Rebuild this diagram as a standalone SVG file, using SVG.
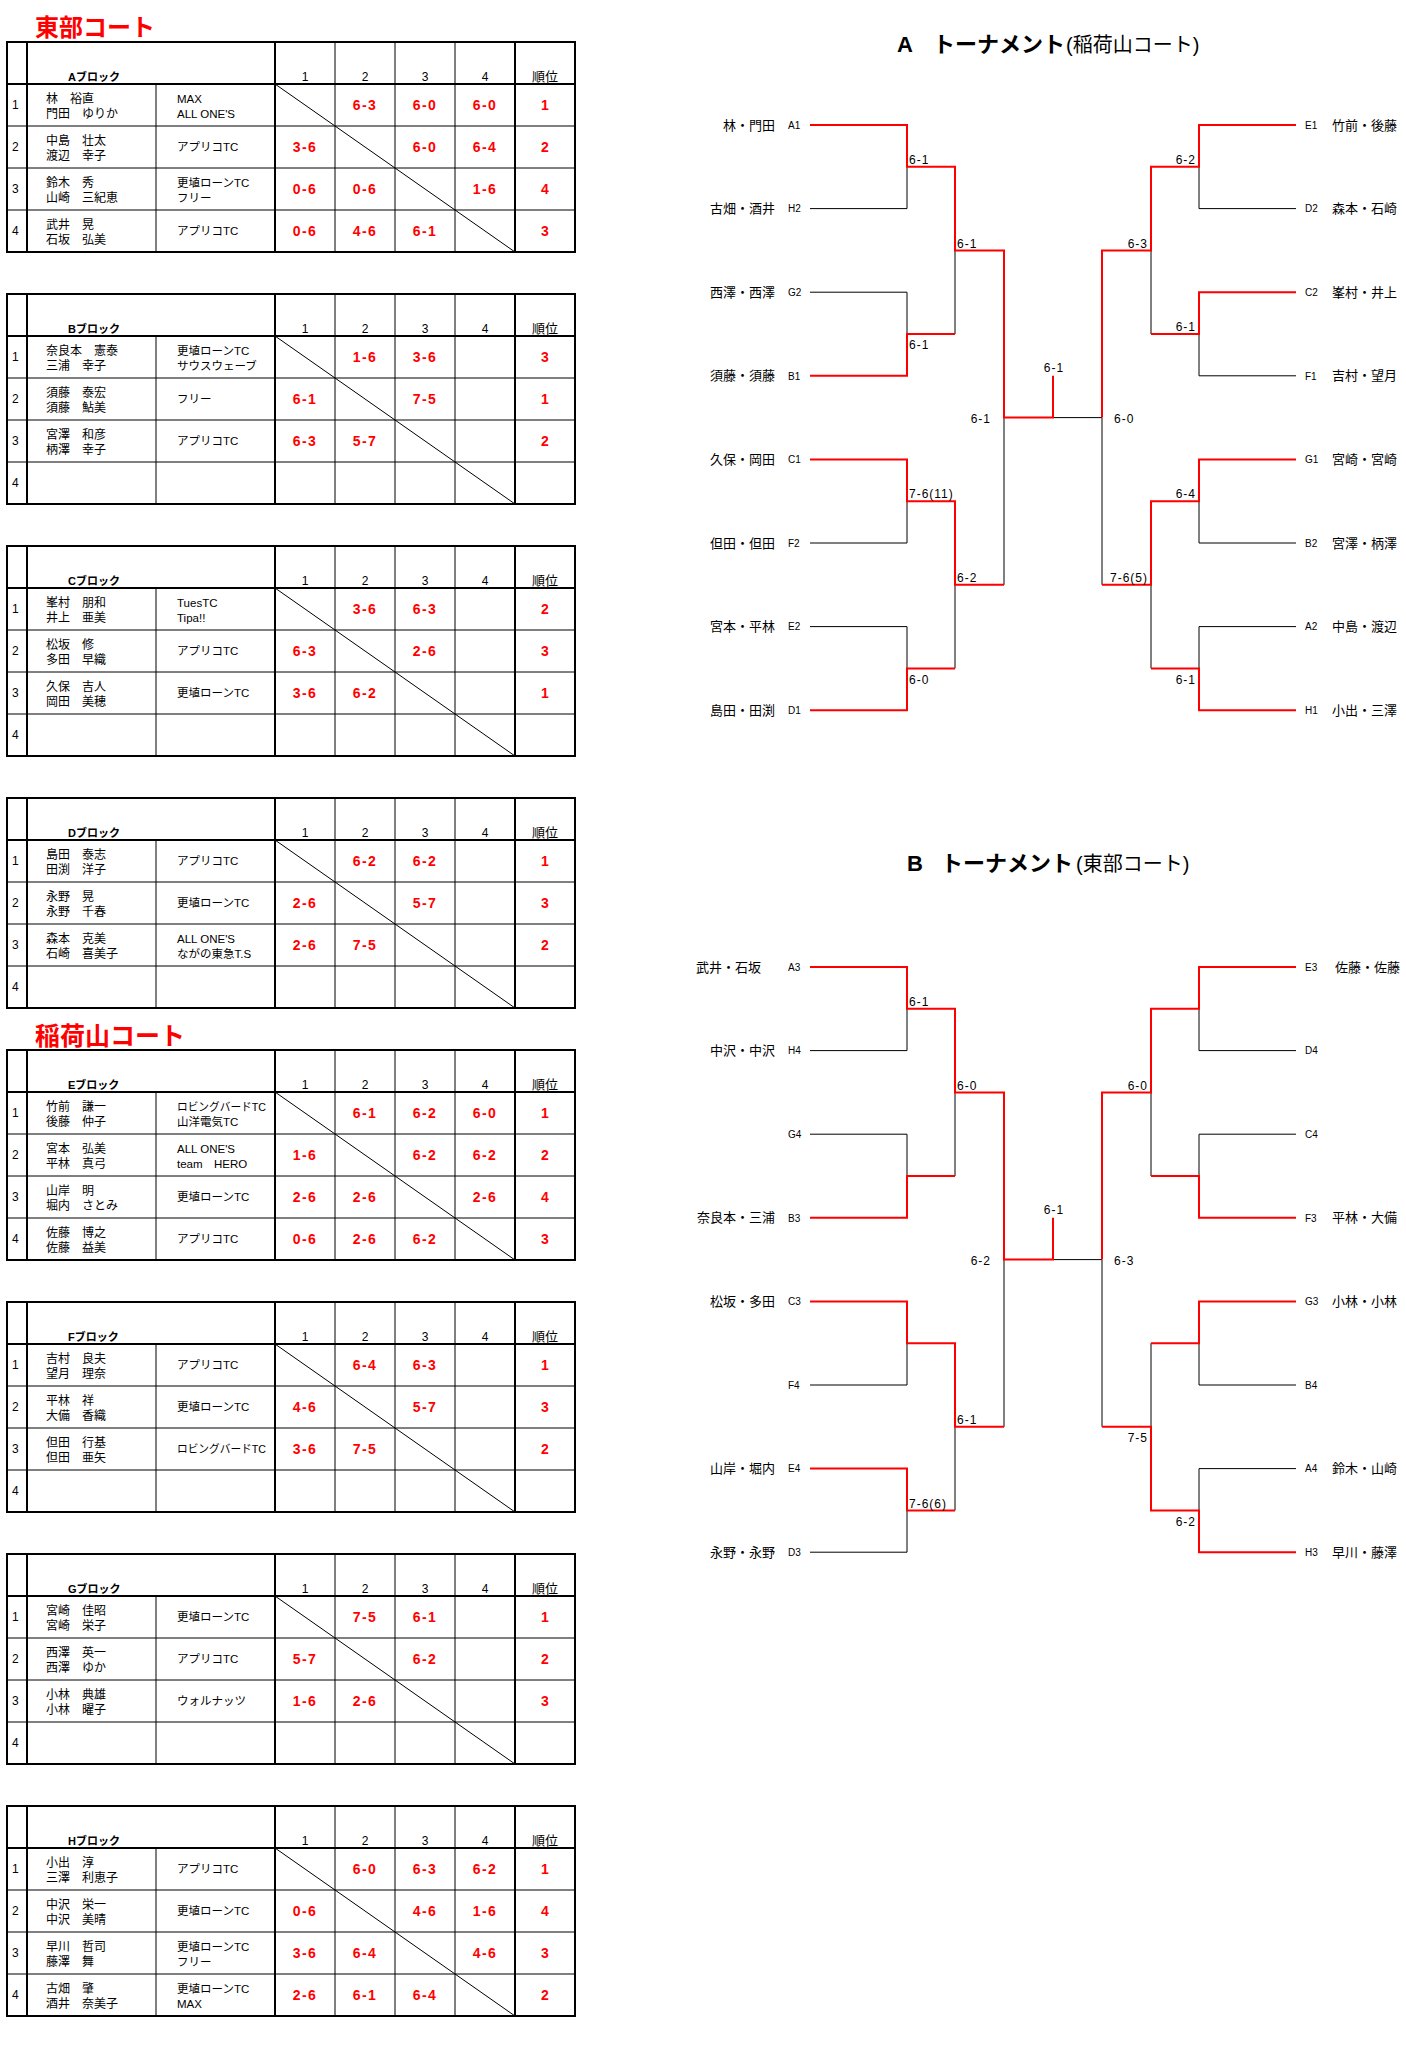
<svg xmlns="http://www.w3.org/2000/svg" xmlns:xlink="http://www.w3.org/1999/xlink" width="1406" height="2059" viewBox="0 0 1406 2059">
<style>
text{font-family:"Liberation Sans","Noto Sans CJK JP",sans-serif;fill:#000}
.ttl{font-size:24px;font-weight:bold;fill:#ff0000}
.bl{font-size:11px;font-weight:bold}
.hd{font-size:12px;text-anchor:middle}
.hd2{font-size:13px;text-anchor:middle}
.rn{font-size:12px}
.nm{font-size:12px}
.tm{font-size:11.5px}
.sc{font-size:14px;font-weight:bold;fill:#ff0000;text-anchor:middle;letter-spacing:1.5px}
.rk{font-size:14px;font-weight:bold;fill:#ff0000;text-anchor:middle}
.thk{fill:none;stroke:#000;stroke-width:2}
.thn{fill:none;stroke:#000;stroke-width:1}
.bk{fill:none;stroke:#000;stroke-width:1}
.rd{fill:none;stroke:#ff0000;stroke-width:2}
.pl{font-size:13px;text-anchor:end}
.pr{font-size:13px}
.cd{font-size:10px}
.bs{font-size:12px;letter-spacing:1px}
.be{text-anchor:end}
.bm{text-anchor:middle}
.tb{font-size:22px;font-weight:bold}
.tp{font-size:20px}
</style>
<defs>
<g id="grid">
<rect x="7" y="0" width="568" height="210" fill="#fff" class="thk"/>
<path class="thn" d="M156,42V210 M335,0V210 M395,0V210 M455,0V210 M7,84H575 M7,126H575 M7,168H575 M275,42L515,210"/>
<path class="thk" d="M7,42H575 M27,0V210 M275,0V210 M515,0V210"/>
<text class="hd" x="305" y="39">1</text>
<text class="hd" x="365" y="39">2</text>
<text class="hd" x="425" y="39">3</text>
<text class="hd" x="485" y="39">4</text>
<text class="hd2" x="545" y="39">順位</text>
<text class="rn" x="12" y="67">1</text>
<text class="rn" x="12" y="109">2</text>
<text class="rn" x="12" y="151">3</text>
<text class="rn" x="12" y="193">4</text>
</g>
</defs>

<text class="ttl" x="35" y="36">東部コート</text>
<text class="ttl" x="35" y="1045" style="font-size:25px">稲荷山コート</text>

<g id="block-A" transform="translate(0,42)">
<use href="#grid" xlink:href="#grid"/>
<text class="bl" x="68" y="39">Aブロック</text>
<text class="nm" y="61"><tspan x="46">林 </tspan><tspan x="70">裕直</tspan></text>
<text class="nm" y="76"><tspan x="46">門田 </tspan><tspan x="82">ゆりか</tspan></text>
<text class="tm" x="177" y="61">MAX</text>
<text class="tm" x="177" y="76">ALL ONE'S</text>
<text class="sc" x="365" y="68">6-3</text><text class="sc" x="425" y="68">6-0</text><text class="sc" x="485" y="68">6-0</text><text class="rk" x="545" y="68">1</text>
<text class="nm" y="103"><tspan x="46">中島 </tspan><tspan x="82">壮太</tspan></text>
<text class="nm" y="118"><tspan x="46">渡辺 </tspan><tspan x="82">幸子</tspan></text>
<text class="tm" x="177" y="109">アプリコTC</text>
<text class="sc" x="305" y="110">3-6</text><text class="sc" x="425" y="110">6-0</text><text class="sc" x="485" y="110">6-4</text><text class="rk" x="545" y="110">2</text>
<text class="nm" y="145"><tspan x="46">鈴木 </tspan><tspan x="82">秀</tspan></text>
<text class="nm" y="160"><tspan x="46">山崎 </tspan><tspan x="82">三紀恵</tspan></text>
<text class="tm" x="177" y="145">更埴ローンTC</text>
<text class="tm" x="177" y="160">フリー</text>
<text class="sc" x="305" y="152">0-6</text><text class="sc" x="365" y="152">0-6</text><text class="sc" x="485" y="152">1-6</text><text class="rk" x="545" y="152">4</text>
<text class="nm" y="187"><tspan x="46">武井 </tspan><tspan x="82">晃</tspan></text>
<text class="nm" y="202"><tspan x="46">石坂 </tspan><tspan x="82">弘美</tspan></text>
<text class="tm" x="177" y="193">アプリコTC</text>
<text class="sc" x="305" y="194">0-6</text><text class="sc" x="365" y="194">4-6</text><text class="sc" x="425" y="194">6-1</text><text class="rk" x="545" y="194">3</text>
</g>

<g id="block-B" transform="translate(0,294)">
<use href="#grid" xlink:href="#grid"/>
<text class="bl" x="68" y="39">Bブロック</text>
<text class="nm" y="61"><tspan x="46">奈良本 </tspan><tspan x="94">憲泰</tspan></text>
<text class="nm" y="76"><tspan x="46">三浦 </tspan><tspan x="82">幸子</tspan></text>
<text class="tm" x="177" y="61">更埴ローンTC</text>
<text class="tm" x="177" y="76">サウスウェーブ</text>
<text class="sc" x="365" y="68">1-6</text><text class="sc" x="425" y="68">3-6</text><text class="rk" x="545" y="68">3</text>
<text class="nm" y="103"><tspan x="46">須藤 </tspan><tspan x="82">泰宏</tspan></text>
<text class="nm" y="118"><tspan x="46">須藤 </tspan><tspan x="82">鮎美</tspan></text>
<text class="tm" x="177" y="109">フリー</text>
<text class="sc" x="305" y="110">6-1</text><text class="sc" x="425" y="110">7-5</text><text class="rk" x="545" y="110">1</text>
<text class="nm" y="145"><tspan x="46">宮澤 </tspan><tspan x="82">和彦</tspan></text>
<text class="nm" y="160"><tspan x="46">柄澤 </tspan><tspan x="82">幸子</tspan></text>
<text class="tm" x="177" y="151">アプリコTC</text>
<text class="sc" x="305" y="152">6-3</text><text class="sc" x="365" y="152">5-7</text><text class="rk" x="545" y="152">2</text>
</g>

<g id="block-C" transform="translate(0,546)">
<use href="#grid" xlink:href="#grid"/>
<text class="bl" x="68" y="39">Cブロック</text>
<text class="nm" y="61"><tspan x="46">峯村 </tspan><tspan x="82">朋和</tspan></text>
<text class="nm" y="76"><tspan x="46">井上 </tspan><tspan x="82">亜美</tspan></text>
<text class="tm" x="177" y="61">TuesTC</text>
<text class="tm" x="177" y="76">Tipa!!</text>
<text class="sc" x="365" y="68">3-6</text><text class="sc" x="425" y="68">6-3</text><text class="rk" x="545" y="68">2</text>
<text class="nm" y="103"><tspan x="46">松坂 </tspan><tspan x="82">修</tspan></text>
<text class="nm" y="118"><tspan x="46">多田 </tspan><tspan x="82">早織</tspan></text>
<text class="tm" x="177" y="109">アプリコTC</text>
<text class="sc" x="305" y="110">6-3</text><text class="sc" x="425" y="110">2-6</text><text class="rk" x="545" y="110">3</text>
<text class="nm" y="145"><tspan x="46">久保 </tspan><tspan x="82">吉人</tspan></text>
<text class="nm" y="160"><tspan x="46">岡田 </tspan><tspan x="82">美穂</tspan></text>
<text class="tm" x="177" y="151">更埴ローンTC</text>
<text class="sc" x="305" y="152">3-6</text><text class="sc" x="365" y="152">6-2</text><text class="rk" x="545" y="152">1</text>
</g>

<g id="block-D" transform="translate(0,798)">
<use href="#grid" xlink:href="#grid"/>
<text class="bl" x="68" y="39">Dブロック</text>
<text class="nm" y="61"><tspan x="46">島田 </tspan><tspan x="82">泰志</tspan></text>
<text class="nm" y="76"><tspan x="46">田渕 </tspan><tspan x="82">洋子</tspan></text>
<text class="tm" x="177" y="67">アプリコTC</text>
<text class="sc" x="365" y="68">6-2</text><text class="sc" x="425" y="68">6-2</text><text class="rk" x="545" y="68">1</text>
<text class="nm" y="103"><tspan x="46">永野 </tspan><tspan x="82">晃</tspan></text>
<text class="nm" y="118"><tspan x="46">永野 </tspan><tspan x="82">千春</tspan></text>
<text class="tm" x="177" y="109">更埴ローンTC</text>
<text class="sc" x="305" y="110">2-6</text><text class="sc" x="425" y="110">5-7</text><text class="rk" x="545" y="110">3</text>
<text class="nm" y="145"><tspan x="46">森本 </tspan><tspan x="82">克美</tspan></text>
<text class="nm" y="160"><tspan x="46">石崎 </tspan><tspan x="82">喜美子</tspan></text>
<text class="tm" x="177" y="145">ALL ONE'S</text>
<text class="tm" x="177" y="160">ながの東急T.S</text>
<text class="sc" x="305" y="152">2-6</text><text class="sc" x="365" y="152">7-5</text><text class="rk" x="545" y="152">2</text>
</g>

<g id="block-E" transform="translate(0,1050)">
<use href="#grid" xlink:href="#grid"/>
<text class="bl" x="68" y="39">Eブロック</text>
<text class="nm" y="61"><tspan x="46">竹前 </tspan><tspan x="82">謙一</tspan></text>
<text class="nm" y="76"><tspan x="46">後藤 </tspan><tspan x="82">仲子</tspan></text>
<text class="tm" x="177" y="61" textLength="89" lengthAdjust="spacingAndGlyphs">ロビングバードTC</text>
<text class="tm" x="177" y="76">山洋電気TC</text>
<text class="sc" x="365" y="68">6-1</text><text class="sc" x="425" y="68">6-2</text><text class="sc" x="485" y="68">6-0</text><text class="rk" x="545" y="68">1</text>
<text class="nm" y="103"><tspan x="46">宮本 </tspan><tspan x="82">弘美</tspan></text>
<text class="nm" y="118"><tspan x="46">平林 </tspan><tspan x="82">真弓</tspan></text>
<text class="tm" x="177" y="103">ALL ONE'S</text>
<text class="tm" x="177" y="118">team　HERO</text>
<text class="sc" x="305" y="110">1-6</text><text class="sc" x="425" y="110">6-2</text><text class="sc" x="485" y="110">6-2</text><text class="rk" x="545" y="110">2</text>
<text class="nm" y="145"><tspan x="46">山岸 </tspan><tspan x="82">明</tspan></text>
<text class="nm" y="160"><tspan x="46">堀内 </tspan><tspan x="82">さとみ</tspan></text>
<text class="tm" x="177" y="151">更埴ローンTC</text>
<text class="sc" x="305" y="152">2-6</text><text class="sc" x="365" y="152">2-6</text><text class="sc" x="485" y="152">2-6</text><text class="rk" x="545" y="152">4</text>
<text class="nm" y="187"><tspan x="46">佐藤 </tspan><tspan x="82">博之</tspan></text>
<text class="nm" y="202"><tspan x="46">佐藤 </tspan><tspan x="82">益美</tspan></text>
<text class="tm" x="177" y="193">アプリコTC</text>
<text class="sc" x="305" y="194">0-6</text><text class="sc" x="365" y="194">2-6</text><text class="sc" x="425" y="194">6-2</text><text class="rk" x="545" y="194">3</text>
</g>

<g id="block-F" transform="translate(0,1302)">
<use href="#grid" xlink:href="#grid"/>
<text class="bl" x="68" y="39">Fブロック</text>
<text class="nm" y="61"><tspan x="46">吉村 </tspan><tspan x="82">良夫</tspan></text>
<text class="nm" y="76"><tspan x="46">望月 </tspan><tspan x="82">理奈</tspan></text>
<text class="tm" x="177" y="67">アプリコTC</text>
<text class="sc" x="365" y="68">6-4</text><text class="sc" x="425" y="68">6-3</text><text class="rk" x="545" y="68">1</text>
<text class="nm" y="103"><tspan x="46">平林 </tspan><tspan x="82">祥</tspan></text>
<text class="nm" y="118"><tspan x="46">大備 </tspan><tspan x="82">香織</tspan></text>
<text class="tm" x="177" y="109">更埴ローンTC</text>
<text class="sc" x="305" y="110">4-6</text><text class="sc" x="425" y="110">5-7</text><text class="rk" x="545" y="110">3</text>
<text class="nm" y="145"><tspan x="46">但田 </tspan><tspan x="82">行基</tspan></text>
<text class="nm" y="160"><tspan x="46">但田 </tspan><tspan x="82">亜矢</tspan></text>
<text class="tm" x="177" y="151" textLength="89" lengthAdjust="spacingAndGlyphs">ロビングバードTC</text>
<text class="sc" x="305" y="152">3-6</text><text class="sc" x="365" y="152">7-5</text><text class="rk" x="545" y="152">2</text>
</g>

<g id="block-G" transform="translate(0,1554)">
<use href="#grid" xlink:href="#grid"/>
<text class="bl" x="68" y="39">Gブロック</text>
<text class="nm" y="61"><tspan x="46">宮崎 </tspan><tspan x="82">佳昭</tspan></text>
<text class="nm" y="76"><tspan x="46">宮崎 </tspan><tspan x="82">栄子</tspan></text>
<text class="tm" x="177" y="67">更埴ローンTC</text>
<text class="sc" x="365" y="68">7-5</text><text class="sc" x="425" y="68">6-1</text><text class="rk" x="545" y="68">1</text>
<text class="nm" y="103"><tspan x="46">西澤 </tspan><tspan x="82">英一</tspan></text>
<text class="nm" y="118"><tspan x="46">西澤 </tspan><tspan x="82">ゆか</tspan></text>
<text class="tm" x="177" y="109">アプリコTC</text>
<text class="sc" x="305" y="110">5-7</text><text class="sc" x="425" y="110">6-2</text><text class="rk" x="545" y="110">2</text>
<text class="nm" y="145"><tspan x="46">小林 </tspan><tspan x="82">典雄</tspan></text>
<text class="nm" y="160"><tspan x="46">小林 </tspan><tspan x="82">曜子</tspan></text>
<text class="tm" x="177" y="151">ウォルナッツ</text>
<text class="sc" x="305" y="152">1-6</text><text class="sc" x="365" y="152">2-6</text><text class="rk" x="545" y="152">3</text>
</g>

<g id="block-H" transform="translate(0,1806)">
<use href="#grid" xlink:href="#grid"/>
<text class="bl" x="68" y="39">Hブロック</text>
<text class="nm" y="61"><tspan x="46">小出 </tspan><tspan x="82">淳</tspan></text>
<text class="nm" y="76"><tspan x="46">三澤 </tspan><tspan x="82">利恵子</tspan></text>
<text class="tm" x="177" y="67">アプリコTC</text>
<text class="sc" x="365" y="68">6-0</text><text class="sc" x="425" y="68">6-3</text><text class="sc" x="485" y="68">6-2</text><text class="rk" x="545" y="68">1</text>
<text class="nm" y="103"><tspan x="46">中沢 </tspan><tspan x="82">栄一</tspan></text>
<text class="nm" y="118"><tspan x="46">中沢 </tspan><tspan x="82">美晴</tspan></text>
<text class="tm" x="177" y="109">更埴ローンTC</text>
<text class="sc" x="305" y="110">0-6</text><text class="sc" x="425" y="110">4-6</text><text class="sc" x="485" y="110">1-6</text><text class="rk" x="545" y="110">4</text>
<text class="nm" y="145"><tspan x="46">早川 </tspan><tspan x="82">哲司</tspan></text>
<text class="nm" y="160"><tspan x="46">藤澤 </tspan><tspan x="82">舞</tspan></text>
<text class="tm" x="177" y="145">更埴ローンTC</text>
<text class="tm" x="177" y="160">フリー</text>
<text class="sc" x="305" y="152">3-6</text><text class="sc" x="365" y="152">6-4</text><text class="sc" x="485" y="152">4-6</text><text class="rk" x="545" y="152">3</text>
<text class="nm" y="187"><tspan x="46">古畑 </tspan><tspan x="82">肇</tspan></text>
<text class="nm" y="202"><tspan x="46">酒井 </tspan><tspan x="82">奈美子</tspan></text>
<text class="tm" x="177" y="187">更埴ローンTC</text>
<text class="tm" x="177" y="202">MAX</text>
<text class="sc" x="305" y="194">2-6</text><text class="sc" x="365" y="194">6-1</text><text class="sc" x="425" y="194">6-4</text><text class="rk" x="545" y="194">2</text>
</g>

<!-- Tournament A -->
<g id="title-A">
<text y="52"><tspan class="tb" x="897">A</tspan><tspan class="tb" x="933">トーナメント</tspan><tspan class="tp" x="1066">(稲荷山コート)</tspan></text>
</g>
<g id="connectors-A">
<path class="bk" d="M810,208.6H907V166.8 M810,292.2H907V334 M955,334V250.4 M1004,584.8V417.6 M810,543H907V501.2 M810,626.6H907V668.4 M955,668.4V584.8 M1053,417.6H1102 M1296,208.6H1199V166.8 M1151,334V250.4 M1296,375.8H1199V334 M1102,584.8V417.6 M1296,543H1199V501.2 M1296,626.6H1199V668.4 M1151,668.4V584.8"/>
<path class="rd" d="M810,125H907V166.8H955V250.4H1004V417.6H1053V375.8 M810,375.8H907V334H955 M810,459.4H907V501.2H955V584.8H1004 M810,710.2H907V668.4H955 M1296,125H1199V166.8H1151V250.4H1102V417.6 M1296,292.2H1199V334H1151 M1296,459.4H1199V501.2H1151V584.8H1102 M1296,710.2H1199V668.4H1151"/>
</g>
<g id="scores-A">
<text class="bs" x="909" y="164">6-1</text>
<text class="bs" x="957" y="247.5">6-1</text>
<text class="bs" x="909" y="349">6-1</text>
<text class="bs be" x="991" y="423">6-1</text>
<text class="bs" x="909" y="498">7-6(11)</text>
<text class="bs" x="957" y="582">6-2</text>
<text class="bs" x="909" y="683.5">6-0</text>
<text class="bs bm" x="1054" y="372">6-1</text>
<text class="bs be" x="1196" y="164">6-2</text>
<text class="bs be" x="1148" y="247.5">6-3</text>
<text class="bs be" x="1196" y="331">6-1</text>
<text class="bs" x="1114" y="423">6-0</text>
<text class="bs be" x="1196" y="498">6-4</text>
<text class="bs be" x="1148" y="582">7-6(5)</text>
<text class="bs be" x="1196" y="683.5">6-1</text>
</g>
<g id="nodes-A-left">
<g id="A-A1"><text class="pl" x="775" y="129.5">林・門田</text><text class="cd" x="788" y="128.7">A1</text></g>
<g id="A-H2"><text class="pl" x="775" y="213.1">古畑・酒井</text><text class="cd" x="788" y="212.3">H2</text></g>
<g id="A-G2"><text class="pl" x="775" y="296.7">西澤・西澤</text><text class="cd" x="788" y="295.9">G2</text></g>
<g id="A-B1"><text class="pl" x="775" y="380.3">須藤・須藤</text><text class="cd" x="788" y="379.5">B1</text></g>
<g id="A-C1"><text class="pl" x="775" y="463.9">久保・岡田</text><text class="cd" x="788" y="463.1">C1</text></g>
<g id="A-F2"><text class="pl" x="775" y="547.5">但田・但田</text><text class="cd" x="788" y="546.7">F2</text></g>
<g id="A-E2"><text class="pl" x="775" y="631.1">宮本・平林</text><text class="cd" x="788" y="630.3">E2</text></g>
<g id="A-D1"><text class="pl" x="775" y="714.7">島田・田渕</text><text class="cd" x="788" y="713.9">D1</text></g>
</g>
<g id="nodes-A-right">
<g id="A-E1"><text class="cd" x="1305" y="128.7">E1</text><text class="pr" x="1332" y="129.5">竹前・後藤</text></g>
<g id="A-D2"><text class="cd" x="1305" y="212.3">D2</text><text class="pr" x="1332" y="213.1">森本・石崎</text></g>
<g id="A-C2"><text class="cd" x="1305" y="295.9">C2</text><text class="pr" x="1332" y="296.7">峯村・井上</text></g>
<g id="A-F1"><text class="cd" x="1305" y="379.5">F1</text><text class="pr" x="1332" y="380.3">吉村・望月</text></g>
<g id="A-G1"><text class="cd" x="1305" y="463.1">G1</text><text class="pr" x="1332" y="463.9">宮崎・宮崎</text></g>
<g id="A-B2"><text class="cd" x="1305" y="546.7">B2</text><text class="pr" x="1332" y="547.5">宮澤・柄澤</text></g>
<g id="A-A2"><text class="cd" x="1305" y="630.3">A2</text><text class="pr" x="1332" y="631.1">中島・渡辺</text></g>
<g id="A-H1"><text class="cd" x="1305" y="713.9">H1</text><text class="pr" x="1332" y="714.7">小出・三澤</text></g>
</g>

<!-- Tournament B -->
<g id="title-B">
<text y="871"><tspan class="tb" x="907">B</tspan><tspan class="tb" x="941">トーナメント</tspan><tspan class="tp" x="1076">(東部コート)</tspan></text>
</g>
<g id="connectors-B">
<path class="bk" d="M810,1050.6H907V1008.8 M810,1134.2H907V1176 M955,1176V1092.4 M1004,1426.8V1259.6 M810,1385H907V1343.2 M955,1510.4V1426.8 M810,1552.2H907V1510.4 M1053,1259.6H1102 M1296,1050.6H1199V1008.8 M1296,1134.2H1199V1176 M1151,1176V1092.4 M1151,1343.2V1426.8 M1296,1385H1199V1343.2 M1296,1468.6H1199V1510.4 M1102,1426.8V1259.6"/>
<path class="rd" d="M810,967H907V1008.8H955V1092.4H1004V1259.6H1053V1217.8 M810,1217.8H907V1176H955 M810,1301.4H907V1343.2H955V1426.8H1004 M810,1468.6H907V1510.4H955 M1296,967H1199V1008.8H1151V1092.4H1102V1259.6 M1296,1217.8H1199V1176H1151 M1296,1301.4H1199V1343.2H1151 M1296,1552.2H1199V1510.4H1151V1426.8H1102"/>
</g>
<g id="scores-B">
<text class="bs" x="909" y="1006">6-1</text>
<text class="bs" x="957" y="1089.5">6-0</text>
<text class="bs be" x="991" y="1265">6-2</text>
<text class="bs" x="957" y="1424">6-1</text>
<text class="bs" x="909" y="1507.5">7-6(6)</text>
<text class="bs bm" x="1054" y="1213.5">6-1</text>
<text class="bs be" x="1148" y="1089.5">6-0</text>
<text class="bs" x="1114" y="1265">6-3</text>
<text class="bs be" x="1148" y="1442">7-5</text>
<text class="bs be" x="1196" y="1525.5">6-2</text>
</g>
<g id="nodes-B-left">
<g id="B-A3"><text class="pl" x="761" y="971.5">武井・石坂</text><text class="cd" x="788" y="970.7">A3</text></g>
<g id="B-H4"><text class="pl" x="775" y="1055.1">中沢・中沢</text><text class="cd" x="788" y="1054.3">H4</text></g>
<g id="B-G4"><text class="cd" x="788" y="1137.9">G4</text></g>
<g id="B-B3"><text class="pl" x="775" y="1222.3">奈良本・三浦</text><text class="cd" x="788" y="1221.5">B3</text></g>
<g id="B-C3"><text class="pl" x="775" y="1305.9">松坂・多田</text><text class="cd" x="788" y="1305.1">C3</text></g>
<g id="B-F4"><text class="cd" x="788" y="1388.7">F4</text></g>
<g id="B-E4"><text class="pl" x="775" y="1473.1">山岸・堀内</text><text class="cd" x="788" y="1472.3">E4</text></g>
<g id="B-D3"><text class="pl" x="775" y="1556.7">永野・永野</text><text class="cd" x="788" y="1555.9">D3</text></g>
</g>
<g id="nodes-B-right">
<g id="B-E3"><text class="cd" x="1305" y="970.7">E3</text><text class="pr" x="1335" y="971.5">佐藤・佐藤</text></g>
<g id="B-D4"><text class="cd" x="1305" y="1054.3">D4</text></g>
<g id="B-C4"><text class="cd" x="1305" y="1137.9">C4</text></g>
<g id="B-F3"><text class="cd" x="1305" y="1221.5">F3</text><text class="pr" x="1332" y="1222.3">平林・大備</text></g>
<g id="B-G3"><text class="cd" x="1305" y="1305.1">G3</text><text class="pr" x="1332" y="1305.9">小林・小林</text></g>
<g id="B-B4"><text class="cd" x="1305" y="1388.7">B4</text></g>
<g id="B-A4"><text class="cd" x="1305" y="1472.3">A4</text><text class="pr" x="1332" y="1473.1">鈴木・山崎</text></g>
<g id="B-H3"><text class="cd" x="1305" y="1555.9">H3</text><text class="pr" x="1332" y="1556.7">早川・藤澤</text></g>
</g>
</svg>
